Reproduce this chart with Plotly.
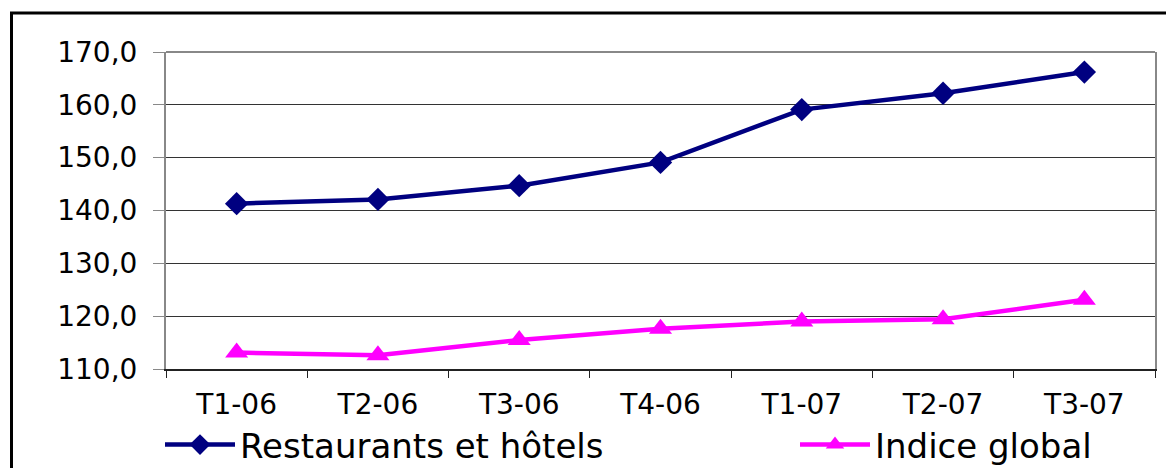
import plotly.graph_objects as go

categories = ["T1-06", "T2-06", "T3-06", "T4-06", "T1-07", "T2-07", "T3-07"]
restaurants = [141.3, 142.1, 144.7, 149.1, 159.1, 162.2, 166.2]
indice_global = [113.1, 112.6, 115.5, 117.6, 119.0, 119.4, 123.1]
y_ticks = [110, 120, 130, 140, 150, 160, 170]

W, H = 1166, 468
L, R, T, B = 166, 11, 52, 99
pw, ph = W - L - R, H - T - B

def px_x(x):
    return (x - L) / pw

def px_y(y):
    return (H - B - y) / ph

FONT = "DejaVu Sans"

fig = go.Figure()
fig.add_trace(go.Scatter(
    x=categories, y=restaurants, name="Restaurants et hôtels",
    mode="lines+markers",
    line=dict(color="#000080", width=4.5),
    marker=dict(symbol="diamond", size=18, color="#000080"),
    legendwidth=550,
))
fig.add_trace(go.Scatter(
    x=categories, y=indice_global, name="Indice global",
    mode="lines+markers",
    line=dict(color="#FF00FF", width=4.5),
    marker=dict(symbol="triangle-up", size=20, color="#FF00FF"),
))

fig.update_layout(
    width=W, height=H,
    margin=dict(l=L, r=R, t=T, b=B, pad=0, autoexpand=False),
    paper_bgcolor="white", plot_bgcolor="white",
    separators=", ",
    font=dict(family=FONT, color="black"),
    showlegend=True,
    legend=dict(
        orientation="h", x=px_x(160), xanchor="left",
        y=px_y(445), yanchor="middle",
        font=dict(family=FONT, size=34, color="black"),
        itemwidth=70, bgcolor="rgba(0,0,0,0)",
        tracegroupgap=0,
    ),
    xaxis=dict(
        type="category", range=[-0.5, 6.5],
        showgrid=False, showline=True, linecolor="#222", linewidth=1.5,
        ticks="outside", tickson="boundaries", ticklen=7, tickcolor="#222",
        ticklabelstandoff=10,
        tickfont=dict(family=FONT, size=28, color="black"),
        fixedrange=True,
    ),
    yaxis=dict(
        range=[110, 170], tickvals=y_ticks, tickformat=".1f",
        showgrid=True, gridcolor="#333", gridwidth=1,
        showline=True, linecolor="#888", linewidth=2, mirror=True,
        ticks="outside", ticklen=11, tickcolor="#888",
        ticklabelstandoff=10,
        tickfont=dict(family=FONT, size=28, color="black"),
        zeroline=False, fixedrange=True,
    ),
    shapes=[
        dict(type="line", xref="paper", yref="paper", x0=0, x1=1, y0=1, y1=1,
             line=dict(color="#888", width=2)),
        dict(type="rect", xref="paper", yref="paper",
             x0=px_x(11.5), x1=px_x(1250), y0=px_y(600), y1=px_y(13),
             line=dict(color="black", width=3)),
    ],
)

fig.write_html("out.html", config={"displayModeBar": False},
               post_script="document.body.style.margin='0';")
